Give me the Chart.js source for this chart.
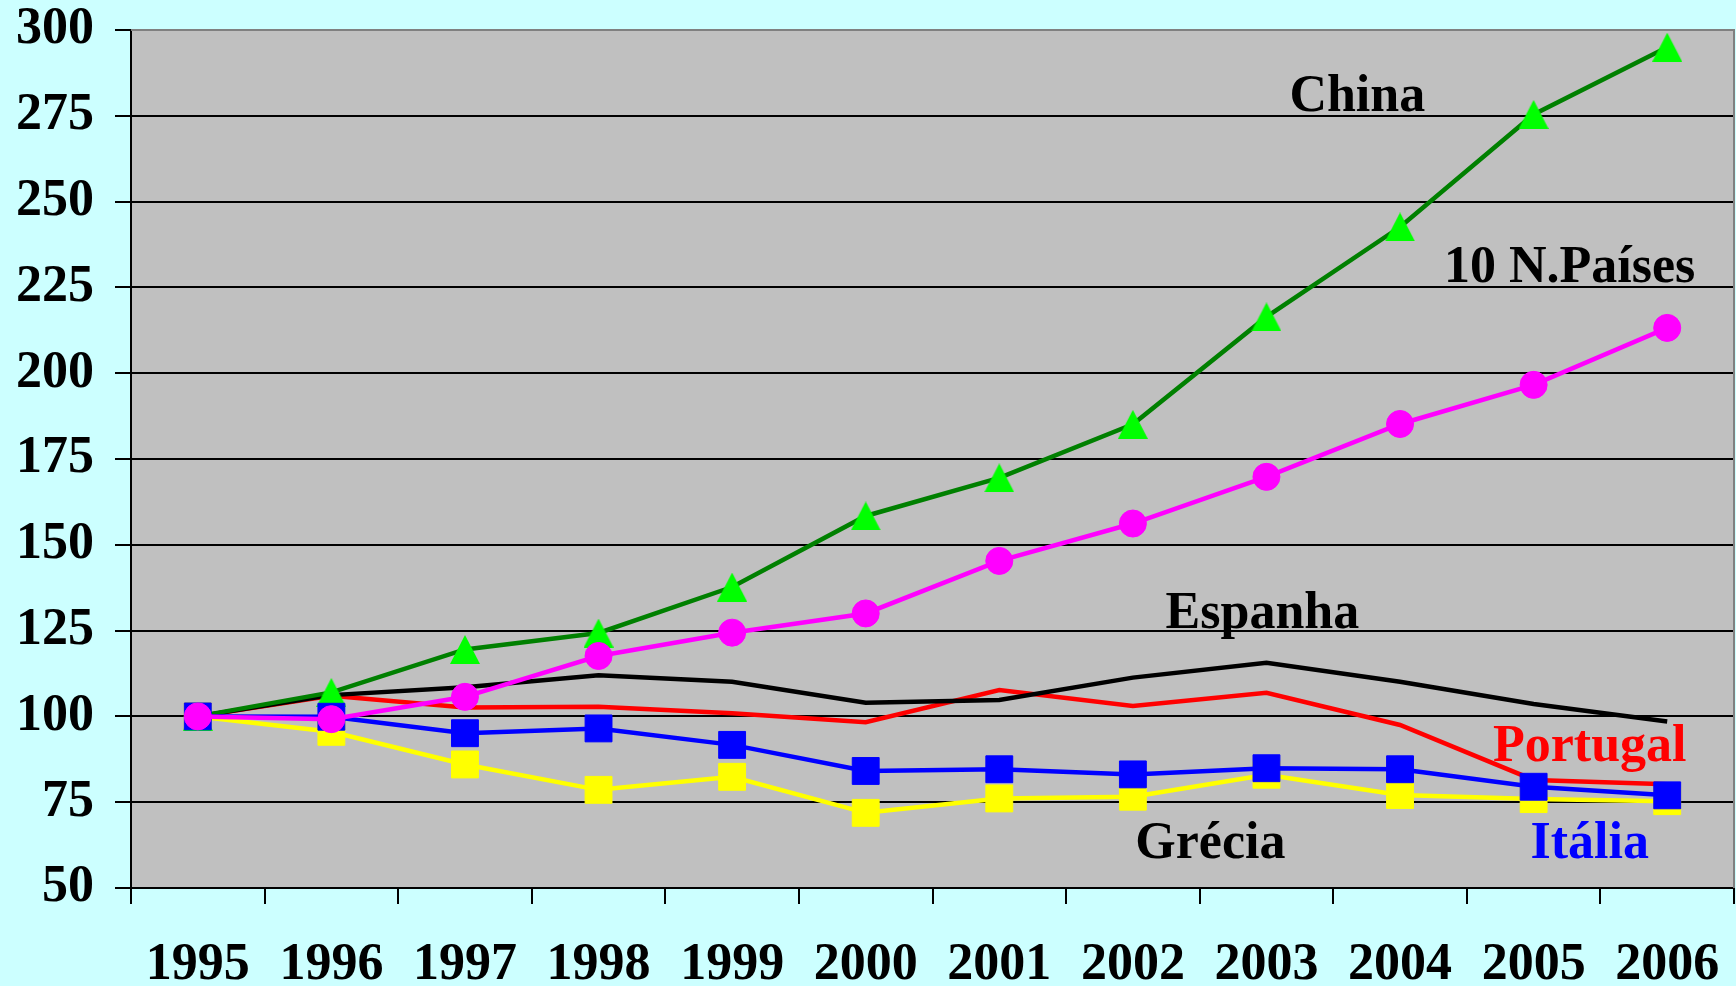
<!DOCTYPE html>
<html>
<head>
<meta charset="utf-8">
<script src="https://cdn.jsdelivr.net/npm/chart.js@4.4.1/dist/chart.umd.min.js"></script>
<style>
  html, body { margin: 0; padding: 0; background: #CCFFFF; }
  canvas { display: block; }
</style>
</head>
<body>
<canvas id="chart" width="1736" height="986"></canvas>
<script>
// index values, 1995 = 100
const years = ['1995', '1996', '1997', '1998', '1999', '2000', '2001', '2002', '2003', '2004', '2005', '2006'];
const china = [100, 107, 119.5, 124.3, 137.7, 158.4, 169.5, 185.1, 216.4, 242.6, 275.4, 295];
const paises10 = [100, 99.2, 105.7, 117.6, 124.4, 130, 145.3, 156.2, 169.8, 185.2, 196.6, 213.2];
const espanha = [100, 106.2, 108.5, 112, 110.1, 104, 104.8, 111.3, 115.6, 110.1, 103.6, 98.5];
const portugal = [100, 106, 102.6, 102.8, 100.9, 98.3, 107.7, 103, 106.9, 97.5, 81.5, 80.2];
const italia = [100, 99.9, 95.1, 96.5, 91.7, 84.1, 84.6, 83.1, 84.9, 84.6, 79.5, 77];
const grecia = [100, 95.5, 86, 78.6, 82.4, 71.9, 76.1, 76.6, 83, 77.1, 75.9, 75.3];
const yTicks = [50, 75, 100, 125, 150, 175, 200, 225, 250, 275, 300];

// series names written inside the plot (x = category index, y = value at baseline)
const seriesLabels = [
    { text: 'China', x: 8.68, y: 276.5, color: '#000000' },
    { text: '10 N.Países', x: 10.27, y: 226.6, color: '#000000' },
    { text: 'Espanha', x: 7.97, y: 125.8, color: '#000000' },
    { text: 'Portugal', x: 10.42, y: 87.1, color: '#FF0000' },
    { text: 'Grécia', x: 7.58, y: 58.7, color: '#000000' },
    { text: 'Itália', x: 10.42, y: 58.7, color: '#0000FF' }
];

const FONT = '"Liberation Serif", "Times New Roman", serif';

// triangle marker centred on its box, like the spreadsheet one
function triangleMarker(w, h, color) {
    const c = document.createElement('canvas');
    c.width = w;
    c.height = h;
    const g = c.getContext('2d');
    g.fillStyle = color;
    g.beginPath();
    g.moveTo(w / 2, 0);
    g.lineTo(w, h);
    g.lineTo(0, h);
    g.closePath();
    g.fill();
    return c;
}

const plotBackground = {
    id: 'plotBackground',
    beforeDraw(chart) {
        const { ctx, chartArea: a } = chart;
        ctx.save();
        ctx.fillStyle = '#C0C0C0';
        ctx.fillRect(a.left, a.top, a.right - a.left, a.bottom - a.top);
        ctx.restore();
    },
    beforeDatasetsDraw(chart) {
        const { ctx, chartArea: a } = chart;
        ctx.save();
        ctx.strokeStyle = '#808080';
        ctx.lineWidth = 2;
        ctx.beginPath();
        ctx.moveTo(a.left, a.top);
        ctx.lineTo(a.right, a.top);
        ctx.lineTo(a.right, a.bottom);
        ctx.stroke();
        ctx.restore();
    }
};

const seriesText = {
    id: 'seriesText',
    afterDatasetsDraw(chart) {
        const { ctx, scales } = chart;
        ctx.save();
        ctx.font = 'bold 52px ' + FONT;
        ctx.textAlign = 'center';
        ctx.textBaseline = 'alphabetic';
        seriesLabels.forEach(l => {
            ctx.fillStyle = l.color;
            ctx.fillText(l.text, scales.x.getPixelForValue(l.x), scales.y.getPixelForValue(l.y));
        });
        ctx.restore();
    }
};

function series(label, data, line, fill, style, radius, order) {
    return {
        label: label,
        data: data,
        borderColor: line,
        backgroundColor: fill,
        borderWidth: 4.5,
        pointStyle: style,
        pointRadius: radius,
        pointBackgroundColor: fill,
        pointBorderColor: fill,
        pointBorderWidth: 1,
        tension: 0,
        clip: false,
        order: order
    };
}

new Chart(document.getElementById('chart'), {
    type: 'line',
    data: {
        labels: years,
        datasets: [
            series('Portugal', portugal, '#FF0000', '#FF0000', 'circle', 0, 6),
            series('Espanha', espanha, '#000000', '#000000', 'circle', 0, 5),
            series('Grécia', grecia, '#FFFF00', '#FFFF00', 'rect', 19, 4),
            series('China', china, '#008000', '#00FF00', triangleMarker(30, 29, '#00FF00'), 15, 3),
            series('Itália', italia, '#0000FF', '#0000FF', 'rect', 19, 2),
            series('10 N.Países', paises10, '#FF00FF', '#FF00FF', 'circle', 13.5, 1)
        ]
    },
    options: {
        responsive: false,
        animation: false,
        layout: {
            autoPadding: false,
            padding: { top: 30, right: 2, left: 0, bottom: 0 }
        },
        plugins: {
            legend: { display: false },
            tooltip: { enabled: false }
        },
        scales: {
            x: {
                offset: true,
                grid: {
                    offset: true,
                    drawOnChartArea: false,
                    drawTicks: true,
                    tickLength: 16,
                    color: '#000000',
                    lineWidth: 2
                },
                border: { color: '#000000', width: 2 },
                ticks: {
                    color: '#000000',
                    padding: 36,
                    maxRotation: 0,
                    autoSkip: false,
                    font: { family: FONT, size: 52, weight: 'bold', lineHeight: 1 }
                },
                afterFit(scale) {
                    scale.height = 98;
                    scale.paddingLeft = 0;
                    scale.paddingRight = 0;
                }
            },
            y: {
                min: 50,
                max: 300,
                afterBuildTicks(scale) { scale.ticks = yTicks.map(v => ({ value: v })); },
                grid: {
                    color: '#000000',
                    lineWidth: 2,
                    tickLength: 16
                },
                border: { color: '#000000', width: 2 },
                ticks: {
                    color: '#000000',
                    padding: 21,
                    font: { family: FONT, size: 52, weight: 'bold', lineHeight: 1 }
                },
                afterFit(scale) {
                    scale.width = 131;
                    scale.paddingTop = 0;
                    scale.paddingBottom = 0;
                }
            }
        }
    },
    plugins: [plotBackground, seriesText]
});
</script>
</body>
</html>
